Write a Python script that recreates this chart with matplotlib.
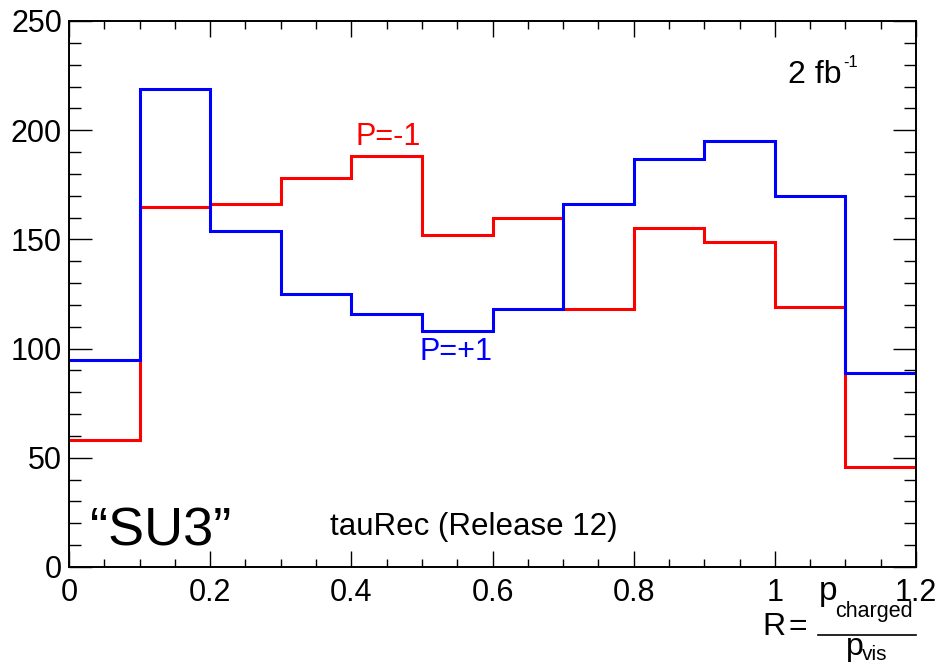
import numpy as np
import matplotlib.pyplot as plt
from matplotlib.lines import Line2D

plt.rcParams['font.family'] = ['Liberation Sans', 'DejaVu Sans']

W, H = 940, 667

# bin edges of R = p_charged / p_vis
edges = np.linspace(0.0, 1.2, 13)
# P = -1 (red)
p_minus = [58, 165, 166, 178, 188, 152, 160, 118, 155, 149, 119, 46]
# P = +1 (blue)
p_plus = [95, 219, 154, 125, 116, 108, 118, 166, 187, 195, 170, 89]


def put(x, y, s, size, color='black'):
    # place text by pixel position (left, baseline) measured from top-left
    fig.text(x / W, 1 - y / H, s, fontsize=size, color=color,
             ha='left', va='baseline')


fig = plt.figure(figsize=(W / 100, H / 100), dpi=100)
ax = fig.add_axes([69 / W, 100 / H, 847 / W, 546 / H])

ax.stairs(p_minus, edges, baseline=None, color='#ff0000', lw=2.2)
ax.stairs(p_plus, edges, baseline=None, color='#0000ff', lw=2.2)

ax.set_xlim(0, 1.2)
ax.set_ylim(0, 250)
ax.set_xticks(np.arange(0, 1.21, 0.2))
ax.set_xticklabels(['0', '0.2', '0.4', '0.6', '0.8', '1', '1.2'])
ax.set_xticks(np.arange(0, 1.21, 0.05), minor=True)
ax.set_yticks(np.arange(0, 251, 50))
ax.set_yticks(np.arange(0, 251, 10), minor=True)

for s in ax.spines.values():
    s.set_linewidth(1.4)
ax.tick_params(which='both', direction='in', top=True, right=True, width=1.0)
ax.tick_params(axis='x', which='major', length=11.5, labelsize=22, pad=8)
ax.tick_params(axis='x', which='minor', length=5.8)
ax.tick_params(axis='y', which='major', length=16.5, labelsize=22, pad=5)
ax.tick_params(axis='y', which='minor', length=8.5)

put(355, 145, 'P=-1', 22, '#ff0000')
put(420, 360, 'P=+1', 22, '#0000ff')

put(788, 83, '2 fb', 23)
put(843, 67, '-1', 12)

put(90, 545, '\u201cSU3\u201d', 39)
put(330, 535, 'tauRec (Release 12)', 22.5)

# x-axis title: R = p_charged / p_vis
put(762, 635, 'R', 23)
put(789, 635, '=', 23)
put(819, 600, 'p', 24)
put(835, 617, 'charged', 15.5)
put(846, 655, 'p', 23)
put(862, 660, 'vis', 15)
fig.add_artist(Line2D([818 / W, 916 / W], [1 - 635 / H, 1 - 635 / H],
                      transform=fig.transFigure, color='black', lw=1.2))

fig.savefig('out.png', dpi=100, facecolor='white')
